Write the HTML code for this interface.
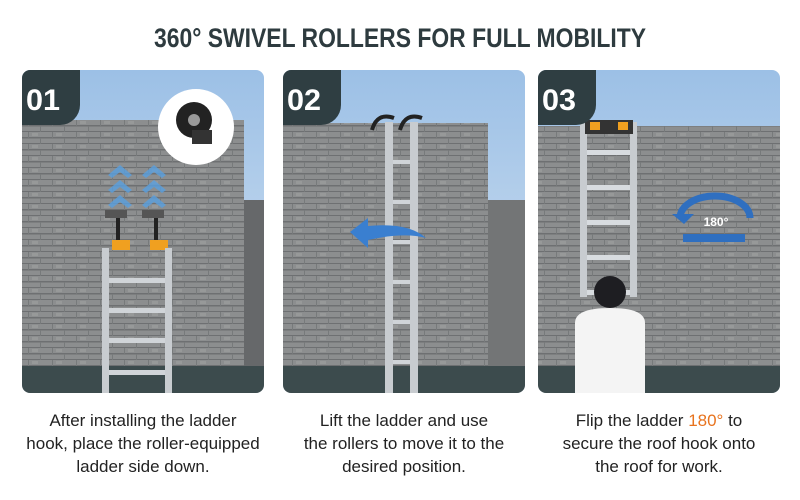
<!DOCTYPE html>
<html><head><style>
body{margin:0;background:#fff;width:800px;height:495px;overflow:hidden;font-family:"Liberation Sans",sans-serif}
</style></head><body>
<svg width="800" height="495" xmlns="http://www.w3.org/2000/svg">
<defs>
<linearGradient id="sky" x1="0" y1="0" x2="0" y2="1"><stop offset="0" stop-color="#9cc0e6"/><stop offset="1" stop-color="#d6e4f2"/></linearGradient>
<pattern id="sh" width="24" height="12" patternUnits="userSpaceOnUse">
<rect width="24" height="12" fill="#8c8e8f"/>
<rect y="5" width="24" height="1.5" fill="#6e7072"/>
<rect y="11" width="24" height="1" fill="#6e7072"/>
<rect x="4" y="0" width="1" height="6" fill="#777a7b"/>
<rect x="16" y="6" width="1" height="6" fill="#777a7b"/>
<rect x="8" y="1" width="6" height="3" fill="#979999"/>
</pattern>
<clipPath id="c1"><rect x="22" y="70" width="242" height="323" rx="8"/></clipPath>
<clipPath id="c2"><rect x="283" y="70" width="242" height="323" rx="8"/></clipPath>
<clipPath id="c3"><rect x="538" y="70" width="242" height="323" rx="8"/></clipPath>
</defs>
<text x="400" y="47" text-anchor="middle" font-family="Liberation Sans" font-weight="bold" font-size="27" fill="#2e3b3f" textLength="492" lengthAdjust="spacingAndGlyphs">360° SWIVEL ROLLERS FOR FULL MOBILITY</text>

<!-- Panel 1 -->
<g clip-path="url(#c1)">
<rect x="22" y="70" width="242" height="323" fill="url(#sky)"/>
<rect x="22" y="120" width="222" height="250" fill="url(#sh)"/>
<rect x="244" y="200" width="20" height="170" fill="#66686a"/>
<rect x="22" y="366" width="242" height="27" fill="#3c4b4d"/>
<g fill="#5aa0e0" opacity="0.8"><path d="M108 175l12-10 12 10-4 3-8-6-8 6z"/><path d="M108 190l12-10 12 10-4 3-8-6-8 6z"/><path d="M108 205l12-10 12 10-4 3-8-6-8 6z"/>
<path d="M142 175l12-10 12 10-4 3-8-6-8 6z"/><path d="M142 190l12-10 12 10-4 3-8-6-8 6z"/><path d="M142 205l12-10 12 10-4 3-8-6-8 6z"/></g>
<rect x="105" y="210" width="22" height="8" fill="#555"/><rect x="142" y="210" width="22" height="8" fill="#555"/>
<rect x="116" y="218" width="4" height="25" fill="#222"/><rect x="154" y="218" width="4" height="25" fill="#222"/>
<rect x="112" y="240" width="18" height="10" fill="#f0a020"/><rect x="150" y="240" width="18" height="10" fill="#f0a020"/>
<rect x="102" y="248" width="7" height="145" fill="#c8ccd0"/><rect x="165" y="248" width="7" height="145" fill="#c8ccd0"/>
<g fill="#d0d4d8"><rect x="109" y="278" width="56" height="5"/><rect x="109" y="308" width="56" height="5"/><rect x="109" y="338" width="56" height="5"/><rect x="109" y="370" width="56" height="5"/></g>
<circle cx="196" cy="127" r="38" fill="#fff"/><circle cx="194" cy="120" r="18" fill="#222"/><circle cx="194" cy="120" r="6" fill="#999"/><rect x="192" y="130" width="20" height="14" fill="#333"/>
<path d="M22 70h58v35a20 20 0 0 1-20 20h-38z" fill="#2f3e42"/>
</g>
<text x="26" y="110" font-weight="bold" font-size="30" fill="#fff" textLength="34" lengthAdjust="spacingAndGlyphs">01</text>

<!-- Panel 2 -->
<g clip-path="url(#c2)">
<rect x="283" y="70" width="242" height="323" fill="url(#sky)"/>
<rect x="283" y="123" width="205" height="250" fill="url(#sh)"/>
<rect x="488" y="200" width="37" height="170" fill="#737576"/>
<rect x="283" y="366" width="242" height="27" fill="#3c4b4d"/>
<path d="M372 130q5-18 22-12M400 130q5-18 22-12" stroke="#222" stroke-width="4" fill="none"/>
<rect x="385" y="122" width="8" height="271" fill="#c8ccd0"/><rect x="410" y="122" width="8" height="271" fill="#c8ccd0"/>
<g fill="#d0d4d8"><rect x="393" y="160" width="17" height="4"/><rect x="393" y="200" width="17" height="4"/><rect x="393" y="240" width="17" height="4"/><rect x="393" y="280" width="17" height="4"/><rect x="393" y="320" width="17" height="4"/><rect x="393" y="360" width="17" height="4"/></g>
<path d="M350 232l18-14v8q40-4 58 12q-22-6-58 2v8z" fill="#3a7fd0"/>
<path d="M283 70h58v35a20 20 0 0 1-20 20h-38z" fill="#2f3e42"/>
</g>
<text x="287" y="110" font-weight="bold" font-size="30" fill="#fff" textLength="34" lengthAdjust="spacingAndGlyphs">02</text>

<!-- Panel 3 -->
<g clip-path="url(#c3)">
<rect x="538" y="70" width="242" height="323" fill="url(#sky)"/>
<rect x="538" y="126" width="242" height="244" fill="url(#sh)"/>
<rect x="538" y="366" width="242" height="27" fill="#3c4b4d"/>
<rect x="580" y="122" width="7" height="175" fill="#c8ccd0"/><rect x="630" y="122" width="7" height="175" fill="#c8ccd0"/>
<rect x="585" y="120" width="48" height="14" fill="#333"/><rect x="590" y="122" width="10" height="8" fill="#f0a020"/><rect x="618" y="122" width="10" height="8" fill="#f0a020"/>
<g fill="#d8dce0"><rect x="587" y="150" width="43" height="5"/><rect x="587" y="185" width="43" height="5"/><rect x="587" y="220" width="43" height="5"/><rect x="587" y="255" width="43" height="5"/><rect x="587" y="290" width="43" height="5"/></g>
<circle cx="610" cy="292" r="16" fill="#1e1e22"/>
<path d="M575 393v-70q0-15 35-15t35 15v70z" fill="#f4f4f4"/>
<path d="M680 218a35 22 0 1 1 70 0" stroke="#2f6fc0" stroke-width="7" fill="none"/>
<path d="M672 214l12 10 10-10z" fill="#2f6fc0"/>
<rect x="683" y="234" width="62" height="8" fill="#2f6fc0"/>
<text x="716" y="226" text-anchor="middle" font-size="12" font-weight="bold" fill="#fff">180°</text>
<path d="M538 70h58v35a20 20 0 0 1-20 20h-38z" fill="#2f3e42"/>
</g>
<text x="542" y="110" font-weight="bold" font-size="30" fill="#fff" textLength="34" lengthAdjust="spacingAndGlyphs">03</text>

<g font-size="17" fill="#222" text-anchor="middle">
<text x="143" y="426">After installing the ladder</text>
<text x="143" y="449">hook, place the roller-equipped</text>
<text x="143" y="472">ladder side down.</text>
<text x="404" y="426">Lift the ladder and use</text>
<text x="404" y="449">the rollers to move it to the</text>
<text x="404" y="472">desired position.</text>
<text x="659" y="426">Flip the ladder <tspan fill="#e8731e">180°</tspan> to</text>
<text x="659" y="449">secure the roof hook onto</text>
<text x="659" y="472">the roof for work.</text>
</g>
</svg>
</body></html>
